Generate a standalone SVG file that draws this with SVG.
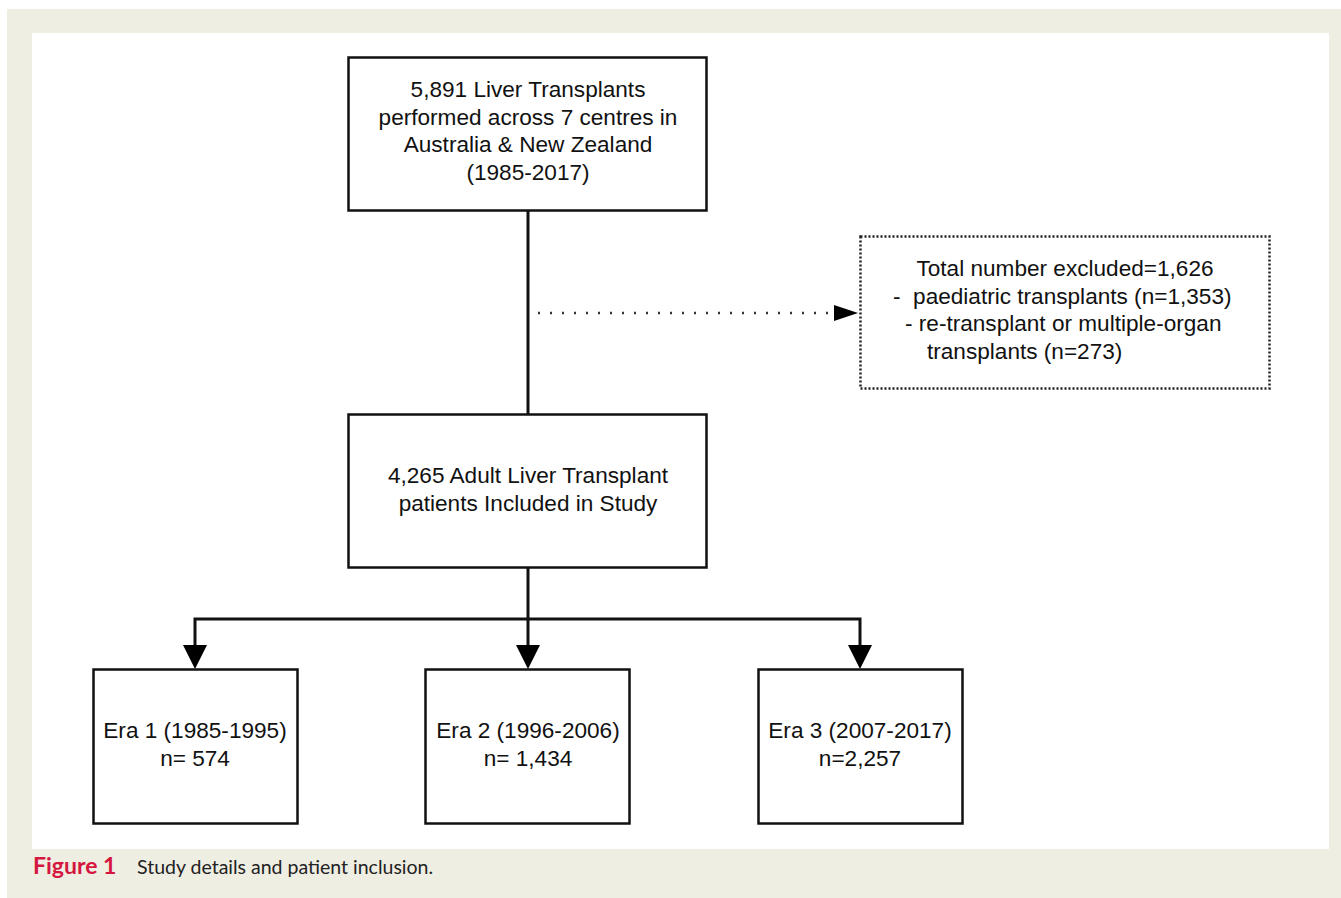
<svg xmlns="http://www.w3.org/2000/svg" width="1341" height="898" viewBox="0 0 1341 898">
<defs>
<style>
.box{fill:#fff;stroke:#111;stroke-width:2.5}
.dbox{fill:#fff;stroke:#222;stroke-width:2.5;stroke-dasharray:2 2}
.t{font-family:"Liberation Sans",Arial,sans-serif;font-size:22.6px;fill:#111;text-anchor:middle}
.ts{font-family:"Liberation Sans",Arial,sans-serif;font-size:22.6px;fill:#111}
.ln{stroke:#111;stroke-width:3;fill:none}
.dl{stroke:#333;stroke-width:2.5;fill:none;stroke-dasharray:2 10}
</style>
<marker id="ah" markerWidth="10" markerHeight="10" viewBox="0 0 10 10" refX="10" refY="5" orient="auto" markerUnits="userSpaceOnUse" >
<path d="M0,0 L10,5 L0,10 z" fill="#000"/>
</marker>
<marker id="ah2" viewBox="0 0 24 26" refX="24" refY="13" markerWidth="24" markerHeight="26" orient="auto" markerUnits="userSpaceOnUse">
<path d="M0,0 L24,13 L0,26 z" fill="#000"/>
</marker>
<marker id="ah3" viewBox="0 0 24 16" refX="24" refY="8" markerWidth="24" markerHeight="16" orient="auto" markerUnits="userSpaceOnUse">
<path d="M0,0 L24,8 L0,16 z" fill="#000"/>
</marker>
</defs>
<rect x="0" y="0" width="1341" height="898" fill="#fff"/>
<rect x="7" y="9" width="1334" height="889" fill="#EFEEE3"/>
<rect x="32" y="33" width="1297" height="816" fill="#fff"/>
<g id="connectors">
<line class="ln" x1="528" y1="211" x2="528" y2="414"/>
<line class="dl" x1="538" y1="313" x2="836" y2="313"/>
<path d="M834,305 L858,313 L834,321 z" fill="#000"/>
<line class="ln" x1="528" y1="568" x2="528" y2="645"/>
<path d="M516,645 L528,669 L540,645 z" fill="#000"/>
<polyline class="ln" points="195,645 195,619 860,619 860,645"/>
<path d="M183,645 L195,669 L207,645 z" fill="#000"/>
<path d="M848,645 L860,669 L872,645 z" fill="#000"/>
</g>
<g id="n_total">
<rect class="box" x="348.5" y="57.5" width="358" height="153"/>
<text class="t" x="528" y="97">5,891 Liver Transplants</text>
<text class="t" x="528" y="125">performed across 7 centres in</text>
<text class="t" x="528" y="152">Australia &amp; New Zealand</text>
<text class="t" x="528" y="180">(1985-2017)</text>
</g>
<g id="n_excluded">
<rect class="dbox" x="860.5" y="236.5" width="409" height="152"/>
<text class="t" x="1065" y="276">Total number excluded=1,626</text>
<text class="ts" x="893" y="304" xml:space="preserve">-  paediatric transplants (n=1,353)</text>
<text class="ts" x="905" y="331">- re-transplant or multiple-organ</text>
<text class="ts" x="927" y="359">transplants (n=273)</text>
</g>
<g id="n_included">
<rect class="box" x="348.5" y="414.5" width="358" height="153"/>
<text class="t" x="528" y="483">4,265 Adult Liver Transplant</text>
<text class="t" x="528" y="511">patients Included in Study</text>
</g>
<g id="n_era1">
<rect class="box" x="93.5" y="669.5" width="204" height="154"/>
<text class="t" x="195" y="738">Era 1 (1985-1995)</text>
<text class="t" x="195" y="766">n= 574</text>
</g>
<g id="n_era2">
<rect class="box" x="425.5" y="669.5" width="204" height="154"/>
<text class="t" x="528" y="738">Era 2 (1996-2006)</text>
<text class="t" x="528" y="766">n= 1,434</text>
</g>
<g id="n_era3">
<rect class="box" x="758.5" y="669.5" width="204" height="154"/>
<text class="t" x="860" y="738">Era 3 (2007-2017)</text>
<text class="t" x="860" y="766">n=2,257</text>
</g>
<g id="caption">
<text x="33" y="874" font-family="Lato,'Open Sans',sans-serif" font-weight="bold" font-size="23" fill="#D5173F">Figure 1</text>
<text x="137" y="874" font-family="Lato,'Open Sans',sans-serif" font-size="19.5" fill="#222">Study details and patient inclusion.</text>
</g>
</svg>
